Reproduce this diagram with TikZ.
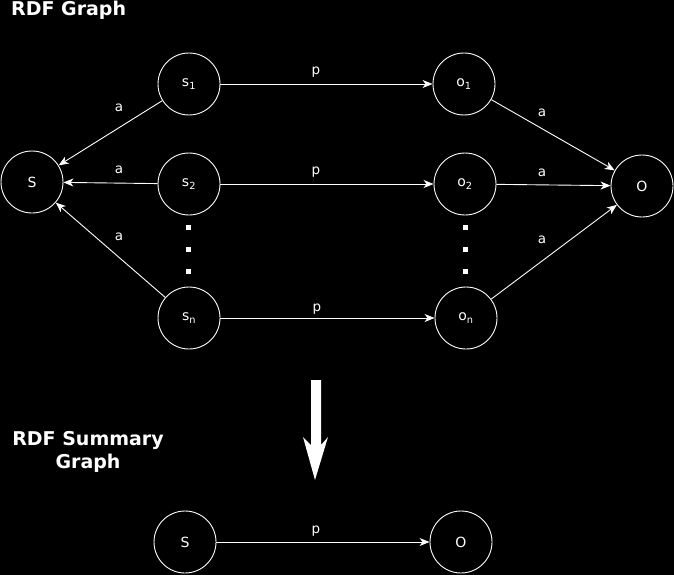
\documentclass[tikz,border=0pt]{standalone}
\usepackage{fontspec}
\setmainfont{DejaVu Sans}
\usetikzlibrary{arrows.meta}
\begin{document}
\begin{tikzpicture}[x=1pt,y=-1pt,
  ent/.style={circle,draw=white,line width=0.9pt,minimum size=62pt,inner sep=0pt,text=white,font=\fontsize{14}{16}\selectfont},
  rel/.style={draw=white,line width=0.9pt,-{Stealth[length=10pt,width=8pt,inset=3pt]}},
  lbl/.style={text=white,font=\fontsize{13.5}{15}\selectfont,inner sep=0pt},
  ttl/.style={text=white,font=\fontsize{19}{23.5}\selectfont\bfseries,inner sep=0pt,align=center},
  dot/.style={fill=white,minimum size=5pt,inner sep=0pt}]
\fill[black] (0,0) rectangle (674,575);
\useasboundingbox (0,0) rectangle (674,575);
% titles
\node[ttl,anchor=base west] (t1) at (11,15.5) {RDF Graph};
\node[ttl,anchor=base] (t2) at (88,468.5) {RDF Summary\\Graph};
% nodes
\node[ent] (S) at (32,182) {S};
\node[ent] (s1) at (189,84) {s\textsubscript{1}};
\node[ent] (s2) at (189,184) {s\textsubscript{2}};
\node[ent] (sn) at (189,318) {s\textsubscript{n}};
\node[ent] (o1) at (464,84) {o\textsubscript{1}};
\node[ent] (o2) at (465,184) {o\textsubscript{2}};
\node[ent] (on) at (466,318) {o\textsubscript{n}};
\node[ent] (O) at (642,186) {O};
\node[ent] (bS) at (185,542) {S};
\node[ent] (bO) at (461,542) {O};
% dots
\node[dot] (d1) at (188,227) {};
\node[dot] (d2) at (188,249) {};
\node[dot] (d3) at (188,271) {};
\node[dot] (e1) at (465,227) {};
\node[dot] (e2) at (465,249) {};
\node[dot] (e3) at (465,271) {};
% edges
\draw[rel] (s1) -- (S);
\draw[rel] (s2) -- (S);
\draw[rel] (sn) -- (S);
\draw[rel] (s1) -- (o1);
\draw[rel] (s2) -- (o2);
\draw[rel] (sn) -- (on);
\draw[rel] (o1) -- (O);
\draw[rel] (o2) -- (O);
\draw[rel] (on) -- (O);
\draw[rel] (bS) -- (bO);
% labels
\node[lbl] (la1) at (119,108) {a};
\node[lbl] (la2) at (119,170) {a};
\node[lbl] (la3) at (119,237) {a};
\node[lbl] (lp1) at (316,72) {p};
\node[lbl] (lp2) at (316,172) {p};
\node[lbl] (lp3) at (317,309) {p};
\node[lbl] (lb1) at (542,113) {a};
\node[lbl] (lb2) at (542,173) {a};
\node[lbl] (lb3) at (542,240) {a};
\node[lbl] (lp4) at (316,531) {p};
% big arrow
\fill[white] (311,380) -- (321,380) -- (321,445) -- (328,437) -- (315,480) -- (303,437) -- (311,445) -- cycle;
\end{tikzpicture}
\end{document}
